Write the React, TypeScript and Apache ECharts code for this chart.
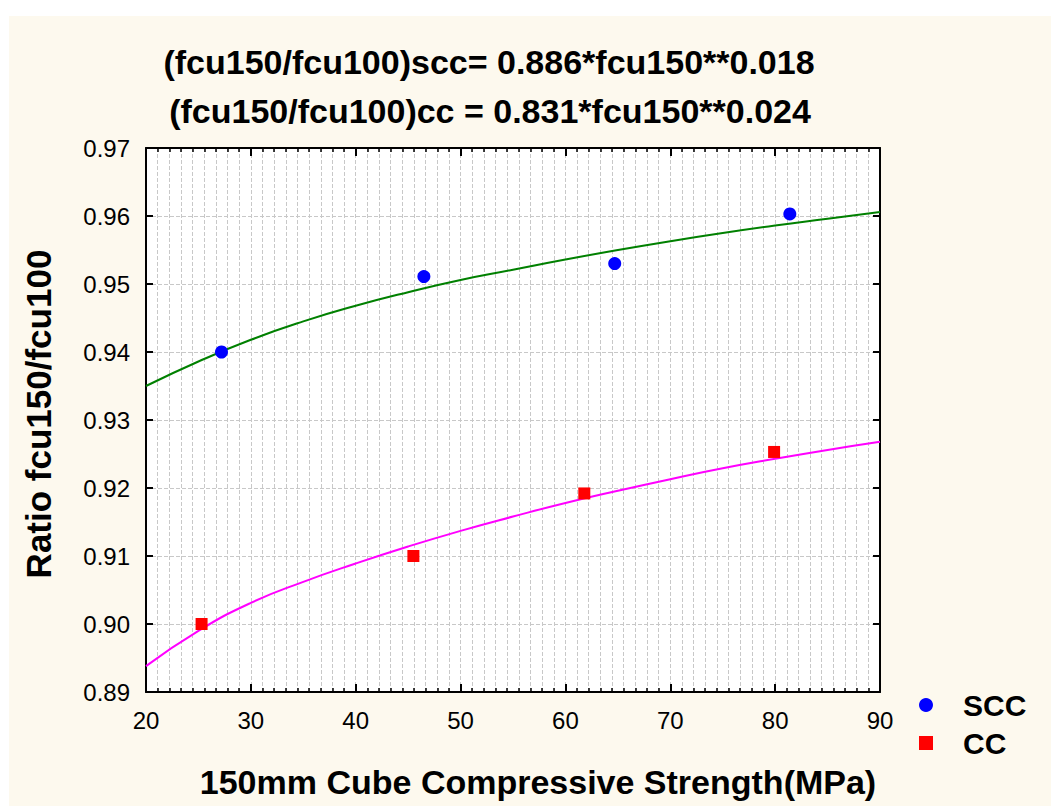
import React, { useEffect, useRef } from "react";
import * as echarts from "echarts";

const sccX = [27.2, 46.5, 64.7, 81.4];
const sccY = [0.940, 0.9511, 0.9530, 0.9603];
const ccX = [25.3, 45.5, 61.8, 79.9];
const ccY = [0.9000, 0.9100, 0.9192, 0.9253];
const fitX = [20, 25, 30, 35, 40, 45, 50, 55, 60, 65, 70, 75, 80, 85, 90];
const sccFit = [0.9350, 0.9386, 0.9418, 0.9445, 0.9468, 0.9488, 0.9506, 0.9521, 0.9536, 0.9550, 0.9563, 0.9575, 0.9586, 0.9596, 0.9606];
const ccFit = [0.8938, 0.8990, 0.9031, 0.9062, 0.9089, 0.9114, 0.9137, 0.9158, 0.9178, 0.9196, 0.9213, 0.9229, 0.9243, 0.9256, 0.9268];
const titleLines = [
  "(fcu150/fcu100)scc= 0.886*fcu150**0.018",
  "(fcu150/fcu100)cc = 0.831*fcu150**0.024",
];
const xTitle = "150mm Cube Compressive Strength(MPa)";
const yTitle = "Ratio fcu150/fcu100";

const SANS = '"Liberation Sans", Arial, sans-serif';

export default function App() {
  const ref = useRef<HTMLDivElement>(null);
  useEffect(() => {
    if (!ref.current) return;
    const chart = echarts.init(ref.current, null, { renderer: "svg" });
    const dashed = { show: true, lineStyle: { color: "#c8c8c8", type: [4, 2] as any, width: 1 } };
    const baseX = {
      type: "value" as const,
      min: 20,
      max: 90,
      interval: 10,
      axisLine: { show: true, onZero: false, lineStyle: { color: "#000", width: 2 } },
      axisTick: { show: true, inside: true, length: 8, lineStyle: { color: "#000", width: 2 } },
      minorTick: { show: true, splitNumber: 9, length: 4, lineStyle: { color: "#000", width: 1.5 } },
    };
    const baseY = {
      type: "value" as const,
      min: 0.89,
      max: 0.97,
      interval: 0.01,
      axisLine: { show: true, onZero: false, lineStyle: { color: "#000", width: 2 } },
      axisTick: { show: true, inside: true, length: 7, lineStyle: { color: "#000", width: 2 } },
    };
    chart.setOption({
      animation: false,
      backgroundColor: "#ffffff",
      graphic: [
        { type: "rect", z: -10, silent: true, shape: { x: 9, y: 16, width: 1042, height: 790 }, style: { fill: "#fdf9ee" } },
        { type: "text", x: 489, y: 62, style: { text: titleLines[0], font: `bold 34px ${SANS}`, fill: "#000", align: "center", verticalAlign: "middle" } },
        { type: "text", x: 490, y: 111, style: { text: titleLines[1], font: `bold 34px ${SANS}`, fill: "#000", align: "center", verticalAlign: "middle" } },
        { type: "text", x: 538, y: 782, style: { text: xTitle, font: `bold 34px ${SANS}`, fill: "#000", align: "center", verticalAlign: "middle" } },
        { type: "text", x: 38, y: 414, rotation: Math.PI / 2, style: { text: yTitle, font: `bold 35px ${SANS}`, fill: "#000", align: "center", verticalAlign: "middle" } },
      ],
      legend: {
        orient: "vertical",
        left: 919,
        top: 690,
        padding: 0,
        itemGap: 8,
        itemWidth: 14,
        itemHeight: 14,
        data: [
          { name: "SCC", icon: "circle" },
          { name: "CC", icon: "rect" },
        ],
        textStyle: { fontFamily: SANS, fontWeight: "bold", fontSize: 30, color: "#000", padding: [0, 0, 0, 25], lineHeight: 30 },
      },
      grid: { left: 146, right: 171, top: 148, bottom: 114, show: true, backgroundColor: "#ffffff", borderWidth: 0 },
      xAxis: [
        {
          ...baseX,
          position: "bottom",
          axisLabel: { color: "#000", fontFamily: SANS, fontSize: 24, margin: 16 },
          splitLine: dashed,
          minorSplitLine: dashed,
        },
        {
          ...baseX,
          position: "top",
          axisLabel: { show: false },
          splitLine: { show: false },
        },
      ],
      yAxis: [
        {
          ...baseY,
          position: "left",
          axisLabel: { color: "#000", fontFamily: SANS, fontSize: 24, margin: 16, formatter: (v: number) => v.toFixed(2) },
          splitLine: dashed,
        },
        {
          ...baseY,
          position: "right",
          axisLabel: { show: false },
          splitLine: { show: false },
        },
      ],
      series: [
        {
          name: "SCC fit",
          type: "line",
          smooth: true,
          symbol: "none",
          data: fitX.map((x, i) => [x, sccFit[i]]),
          lineStyle: { color: "#008000", width: 2 },
          z: 3,
        },
        {
          name: "CC fit",
          type: "line",
          smooth: true,
          symbol: "none",
          data: fitX.map((x, i) => [x, ccFit[i]]),
          lineStyle: { color: "#ff00ff", width: 2 },
          z: 3,
        },
        {
          name: "SCC",
          type: "scatter",
          symbol: "circle",
          symbolSize: 13,
          data: sccX.map((x, i) => [x, sccY[i]]),
          itemStyle: { color: "#0000ff", opacity: 1 },
          z: 4,
        },
        {
          name: "CC",
          type: "scatter",
          symbol: "rect",
          symbolSize: 12,
          data: ccX.map((x, i) => [x, ccY[i]]),
          itemStyle: { color: "#ff0000", opacity: 1 },
          z: 4,
        },
      ],
    });
    return () => chart.dispose();
  }, []);
  return (
    <div
      ref={ref}
      style={{ position: "fixed", left: 0, top: 0, width: 1051, height: 806 }}
    />
  );
}
